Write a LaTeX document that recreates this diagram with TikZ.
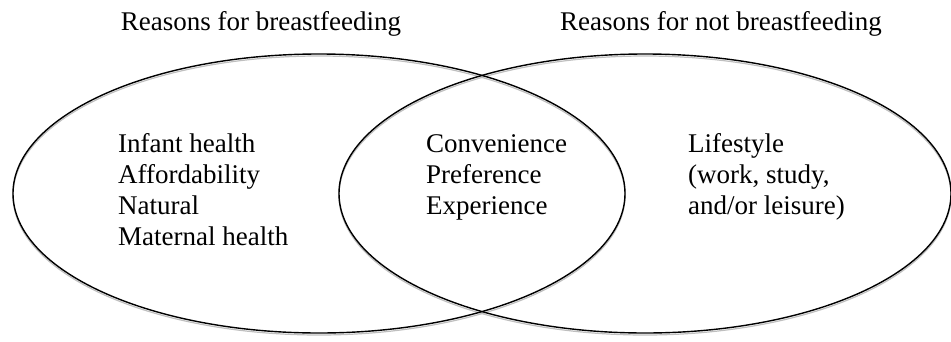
\documentclass[tikz,border=0pt]{standalone}
\usepackage{fontspec}
\setmainfont{Liberation Serif}
\usetikzlibrary{positioning,shapes,fit}

\begin{document}
\begin{tikzpicture}[x=1pt,y=-1pt,
    every node/.style={font=\fontsize{27}{31}\selectfont},
    setnode/.style={draw,ellipse,line width=1.4pt,inner sep=0pt,
        minimum width=612pt,minimum height=279pt},
    shadownode/.style={draw=black!25,ellipse,line width=1.2pt,inner sep=0pt,
        minimum width=612pt,minimum height=279pt},
    listnode/.style={align=left,anchor=base west,inner sep=0pt},
    titlenode/.style={anchor=base,inner sep=0pt}
    ]
    \useasboundingbox (0,0) rectangle (951,341);

    % faint shadow under the sets
    \node[shadownode] at (319,195.5) {};
    \node[shadownode] at (645,195.5) {};

    % the two sets
    \node (pro) [setnode] at (319,193.5) {};
    \node (con) [setnode] at (645,193.5) {};

    % headings
    \node (protitle) [titlenode] at (261,30) {Reasons for breastfeeding};
    \node (contitle) [titlenode] at (721,30) {Reasons for not breastfeeding};

    % the lists (anchored at the last line)
    \node (prolist) [listnode] at (118,245) {Infant health\\Affordability\\Natural\\Maternal health};
    \node (bothlist) [listnode] at (426,214) {Convenience\\Preference\\Experience};
    \node (conlist) [listnode] at (688,214) {Lifestyle\\(work, study,\\and/or leisure)};
\end{tikzpicture}
\end{document}
